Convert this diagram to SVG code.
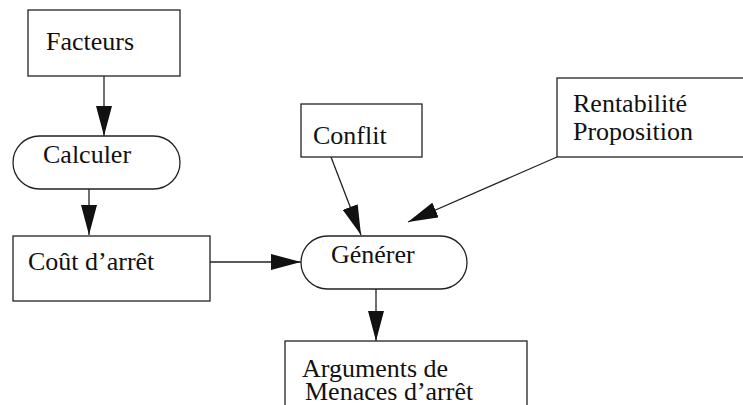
<svg xmlns="http://www.w3.org/2000/svg" width="743" height="405" viewBox="0 0 743 405">
  <style>
    .box { fill: #fff; stroke: #222; stroke-width: 1.3; }
    .lbl { font-family: "Liberation Serif", "Times New Roman", serif; font-size: 26px; fill: #111; }
    .edge { fill: none; stroke: #222; stroke-width: 1.3; marker-end: url(#head); }
  </style>
  <defs>
    <marker id="head" viewBox="0 0 30 16" refX="30" refY="8" markerWidth="30" markerHeight="16" markerUnits="userSpaceOnUse" orient="auto">
      <path d="M0,0 L30,8 L0,16 Z" fill="#111"/>
    </marker>
  </defs>
  <rect width="743" height="405" fill="#fff"/>

  <g id="connectors">
    <path class="edge" d="M104,76 L104,136"/>
    <path class="edge" d="M89,189 L89,235"/>
    <path class="edge" d="M210,262 L301,262"/>
    <path class="edge" d="M331,157 L361,235"/>
    <path class="edge" d="M557,157 L408,222"/>
    <path class="edge" d="M376,289 L376,341"/>
  </g>

  <g id="facteurs">
    <rect class="box" x="28" y="10" width="152" height="66"/>
    <text class="lbl" x="46" y="50">Facteurs</text>
  </g>

  <g id="calculer">
    <rect class="box" x="13" y="136" width="167" height="53" rx="26.5"/>
    <text class="lbl" x="43" y="163">Calculer</text>
  </g>

  <g id="cout">
    <rect class="box" x="13" y="236" width="197" height="65"/>
    <text class="lbl" x="28" y="270">Coût d’arrêt</text>
  </g>

  <g id="conflit">
    <rect class="box" x="301" y="104" width="121" height="53"/>
    <text class="lbl" x="313" y="144">Conflit</text>
  </g>

  <g id="rentabilite">
    <rect class="box" x="557" y="78" width="200" height="79"/>
    <text class="lbl" x="573" y="112">Rentabilité</text>
    <text class="lbl" x="573" y="140">Proposition</text>
  </g>

  <g id="generer">
    <rect class="box" x="301" y="236" width="166" height="53" rx="26.5"/>
    <text class="lbl" x="331" y="263">Générer</text>
  </g>

  <g id="arguments">
    <rect class="box" x="285" y="341" width="242" height="80"/>
    <text class="lbl" x="302" y="377">Arguments de</text>
    <text class="lbl" x="305" y="400">Menaces d’arrêt</text>
  </g>
</svg>
